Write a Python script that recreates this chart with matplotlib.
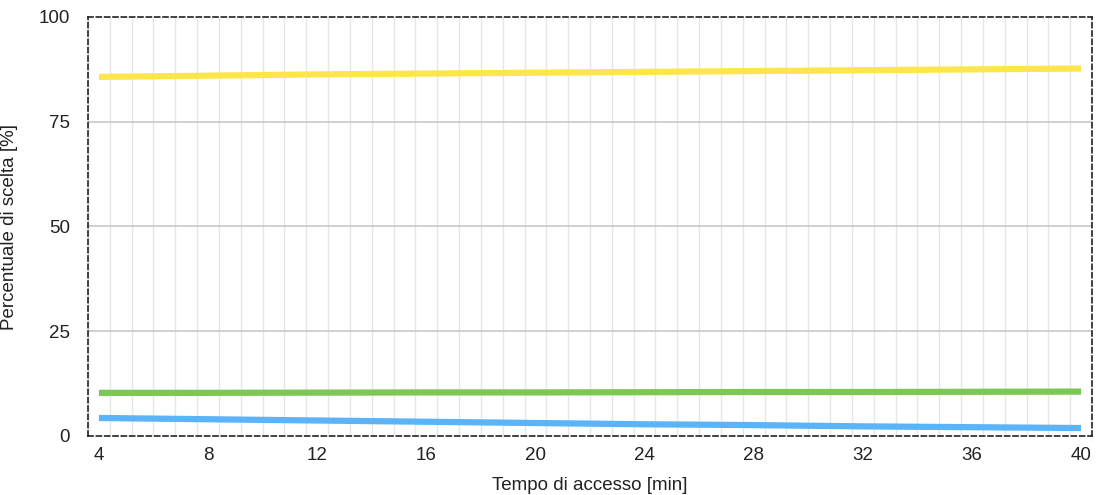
import numpy as np
import matplotlib.pyplot as plt

plt.rcParams['font.family'] = ['Liberation Sans', 'DejaVu Sans']

# Tempo di accesso [min]
tempo = [4, 8, 12, 16, 20, 24, 28, 32, 36, 40]
# Percentuale di scelta [%] per le tre alternative
giallo = [85.7, 86.0, 86.3, 86.5, 86.7, 86.9, 87.1, 87.3, 87.5, 87.7]
verde = [10.3, 10.3, 10.35, 10.4, 10.4, 10.45, 10.5, 10.5, 10.55, 10.6]
blu = [4.3, 4.0, 3.7, 3.4, 3.1, 2.8, 2.6, 2.3, 2.1, 1.9]

x_ticks = [4, 8, 12, 16, 20, 24, 28, 32, 36, 40]
y_ticks = [0, 25, 50, 75, 100]

fig = plt.figure(figsize=(11.01, 4.95), dpi=100)
ax = fig.add_axes([88 / 1101, 1 - 436 / 495, (1092 - 88) / 1101, (436 - 17) / 495])

# Vertical minor grid every 0.8 min
for gx in np.arange(3.6, 40.41, 0.8):
    ax.axvline(gx, color='#e6e6e6', lw=1, zorder=0)
for gy in [25, 50, 75]:
    ax.axhline(gy, color='#c8c8c8', lw=1.2, zorder=0)

ax.plot(tempo, giallo, color='#fde64b', lw=4.5, solid_capstyle='butt', zorder=3)
ax.plot(tempo, verde, color='#7dc855', lw=4.5, solid_capstyle='butt', zorder=3)
ax.plot(tempo, blu, color='#5ab4f7', lw=4.5, solid_capstyle='butt', zorder=3)

ax.set_xlim(3.6, 40.4)
ax.set_ylim(0, 100)
ax.set_xticks(x_ticks)
ax.set_yticks(y_ticks)
ax.tick_params(length=0, labelsize=13.5, colors='#222222')
ax.tick_params(axis='x', pad=8)
ax.tick_params(axis='y', pad=13)

for s in ax.spines.values():
    s.set_linestyle((0, (3, 2)))
    s.set_color('#222222')
    s.set_linewidth(1.2)

ax.set_xlabel('Tempo di accesso [min]', fontsize=13.5, color='#222222', labelpad=9)
ax.set_ylabel('Percentuale di scelta [%]', fontsize=13.5, color='#222222')
ax.yaxis.set_label_coords(-0.07, 0.5)

fig.savefig('out.png', dpi=100)
